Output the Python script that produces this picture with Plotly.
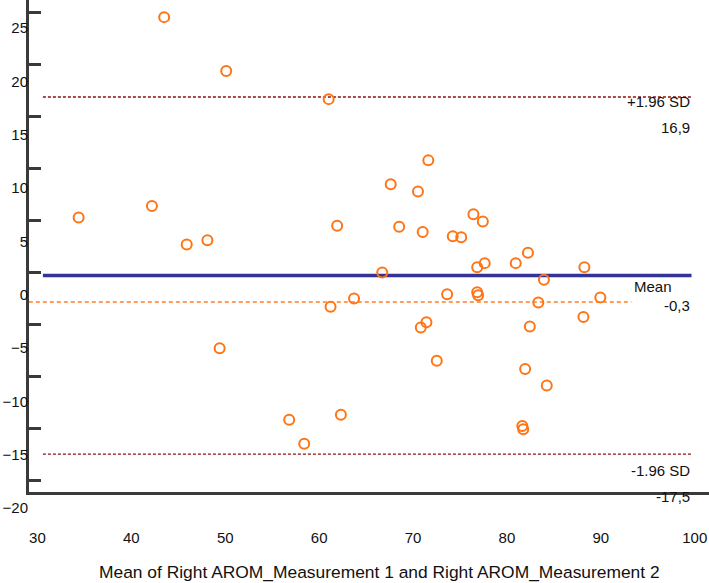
import plotly.graph_objects as go

# ---- data ----
mean_values = [43.0, 49.6, 33.9, 41.7, 45.4, 47.6, 60.5, 71.1, 67.1, 70.0,
               75.9, 76.9, 61.4, 68.0, 70.5, 73.7, 74.6, 66.2, 76.3, 77.1,
               80.4, 81.7, 87.7, 83.4, 63.2, 73.1, 76.3, 76.4, 89.4, 82.8,
               60.7, 87.6, 81.9, 70.9, 70.3, 72.0, 48.9, 81.4, 83.7, 81.1,
               81.2, 56.3, 61.8, 57.9]
differences = [24.6, 19.4, 5.3, 6.4, 2.7, 3.1, 16.7, 10.8, 8.5, 7.8,
               5.6, 4.9, 4.5, 4.4, 3.9, 3.5, 3.4, 0.0, 0.5, 0.9,
               0.9, 1.9, 0.5, -0.7, -2.5, -2.1, -1.9, -2.2, -2.4, -2.9,
               -3.3, -4.3, -5.2, -4.8, -5.3, -8.5, -7.3, -9.3, -10.9, -14.8,
               -15.1, -14.2, -13.7, -16.5]

mean_diff = -0.3
upper_loa = 16.9
lower_loa = -17.5
ref_dashed = -2.85

lines_x = [30.1, 99.1]
ref_x = [28.6, 92.7]

x_tick_vals = [30, 40, 50, 60, 70, 80, 90, 100]
y_tick_vals = [25, 20, 15, 10, 5, 0, -5, -10, -15, -20]

FONT = "Liberation Sans, Arial, sans-serif"
AXIS_COLOR = "#3a3a3a"
TEXT_COLOR = "#111111"

fig = go.Figure()

# limits of agreement
for v in (upper_loa, lower_loa):
    fig.add_trace(go.Scatter(x=lines_x, y=[v, v], mode="lines",
                             line=dict(color="#8b1010", width=1.4, dash="3px,2px"),
                             hoverinfo="skip", showlegend=False))
# reference dashed line
fig.add_trace(go.Scatter(x=ref_x, y=[ref_dashed, ref_dashed], mode="lines",
                         line=dict(color="#ff7f27", width=1.4, dash="4px,3px"),
                         hoverinfo="skip", showlegend=False))
# mean line
fig.add_trace(go.Scatter(x=lines_x, y=[mean_diff, mean_diff], mode="lines",
                         line=dict(color="#33339a", width=3.5),
                         hoverinfo="skip", showlegend=False))
# points
fig.add_trace(go.Scatter(x=mean_values, y=differences, mode="markers",
                         marker=dict(symbol="circle-open", size=10,
                                     color="#ff7415", line=dict(width=2, color="#ff7415")),
                         showlegend=False))
# invisible trace carrying the label axes
fig.add_trace(go.Scatter(x=[mean_values[0]], y=[differences[0]], xaxis="x2", yaxis="y2",
                         mode="markers", marker=dict(opacity=0),
                         showlegend=False, hoverinfo="skip"))

ann_font = dict(family=FONT, size=15, color=TEXT_COLOR)
annotations = [
    dict(x=lines_x[1], y=upper_loa, text="+1.96 SD", xanchor="right", yanchor="middle", yshift=-4),
    dict(x=lines_x[1], y=upper_loa, text=f"{upper_loa:.1f}".replace(".", ","), xanchor="right", yanchor="middle", yshift=-30),
    dict(x=95.0, y=mean_diff, text="Mean", xanchor="center", yanchor="middle", yshift=-11),
    dict(x=lines_x[1], y=mean_diff, text=f"{mean_diff:.1f}".replace(".", ","), xanchor="right", yanchor="middle", yshift=-30),
    dict(x=lines_x[1], y=lower_loa, text="-1.96 SD", xanchor="right", yanchor="middle", yshift=-16),
    dict(x=lines_x[1], y=lower_loa, text=f"{lower_loa:.1f}".replace(".", ","), xanchor="right", yanchor="middle", yshift=-42),
]
for a in annotations:
    a.update(xref="x", yref="y", showarrow=False, font=ann_font)
annotations.append(dict(x=0.515, y=-0.1, xref="paper", yref="paper",
                        text="Mean of Right AROM_Measurement 1 and Right AROM_Measurement 2",
                        showarrow=False, xanchor="center", yanchor="middle",
                        font=dict(family=FONT, size=17.4, color=TEXT_COLOR)))

fig.update_layout(
    template="none",
    width=709, height=583,
    margin=dict(l=29, r=0, t=0, b=63, pad=0),
    paper_bgcolor="white", plot_bgcolor="rgba(0,0,0,0)",
    font=dict(family=FONT, size=15, color=TEXT_COLOR),
    annotations=annotations,
    showlegend=False,
    # data axes (drawn lines and tick marks)
    xaxis=dict(range=[28.62, 100.96], anchor="y", automargin=False,
               showline=True, linecolor=AXIS_COLOR, linewidth=3,
               showgrid=False, zeroline=False, ticks="", showticklabels=False),
    yaxis=dict(range=[-21.15, 26.25], domain=[0.05385, 1], anchor="x", automargin=False,
               showline=True, linecolor=AXIS_COLOR, linewidth=3,
               showgrid=False, zeroline=False,
               ticks="inside", ticklen=12, tickwidth=3, tickcolor=AXIS_COLOR,
               tickvals=y_tick_vals, showticklabels=False),
    # label axes (tick labels only, placed as in the reference)
    xaxis2=dict(range=[29.10, 101.52], domain=[0, 1], anchor="y2", automargin=False,
                showline=False, showgrid=False, zeroline=False, ticks="",
                tickvals=x_tick_vals, ticklabelstandoff=7, ticklabeloverflow="allow",
                tickfont=dict(family=FONT, size=15, color=TEXT_COLOR)),
    yaxis2=dict(range=[-21.125, 27.625], domain=[0, 1], anchor="x2", automargin=False,
                side="left", showline=False, showgrid=False,
                zeroline=False, ticks="", tickvals=y_tick_vals,
                tickfont=dict(family=FONT, size=15, color=TEXT_COLOR)),
)

fig.write_html("out.html", config={"displayModeBar": False},
               post_script="document.body.style.margin='0px';")
